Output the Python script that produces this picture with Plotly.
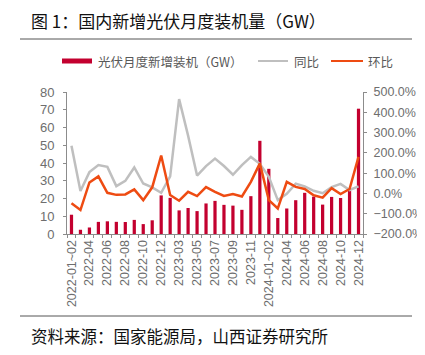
import plotly.graph_objects as go

categories = [
    "2022-01~02", "2022-03", "2022-04", "2022-05", "2022-06", "2022-07", "2022-08",
    "2022-09", "2022-10", "2022-11", "2022-12",
    "2023-01~02", "2023-03", "2023-04", "2023-05", "2023-06", "2023-07", "2023-08",
    "2023-09", "2023-10", "2023-11", "2023-12",
    "2024-01~02", "2024-03", "2024-04", "2024-05", "2024-06", "2024-07", "2024-08",
    "2024-09", "2024-10", "2024-11", "2024-12",
]
installed_gw = [
    10.86, 2.39, 3.67, 6.83, 7.15, 6.85, 6.75, 7.95, 5.58, 7.72, 21.74,
    20.37, 13.3, 14.65, 12.9, 17.21, 18.66, 16.42, 15.99, 13.62, 21.32, 52.5,
    36.72, 9.0, 14.37, 19.04, 23.2, 21.05, 16.56, 20.89, 20.3, 24.2, 70.6,
]
yoy_pct = [
    235, 12, 105, 140, 131, 36, 62, 128, 49, 30, 3,
    84, 465, 285, 88, 135, 172, 135, 92, 140, 180, 146,
    82, -33, -2, 48, 35, 13, 1, 31, 47, 17, 35,
]
mom_pct = [
    -49, -82, 54, 84, 3, -7, -5, 20, -33, 30, 187,
    -8, -36, 8, -13, 31, 8, -12, -3, -15, 57, 148,
    -33, -74, 57, 32, 22, -9, -21, 26, -3, 22, 180,
]
labeled_ticks = [
    "2022-01~02", "2022-04", "2022-06", "2022-08", "2022-10", "2022-12",
    "2023-03", "2023-05", "2023-07", "2023-09", "2023-11",
    "2024-01~02", "2024-04", "2024-06", "2024-08", "2024-10", "2024-12",
]
tick_labels = [c if c in labeled_ticks else "" for c in categories]

names = ["光伏月度新增装机（GW）", "同比", "环比"]

BAR = "#C3002F"
GRAY = "#BFBFBF"
ORANGE = "#EE4B12"
AXIS = "#8C8C8C"
TXT = "#6E6E6E"
FONT = "Liberation Sans, Noto Sans CJK SC, sans-serif"

# page offset of the figure (default body margin) and target screen geometry
OFF = 8
W, H = 425 - OFF, 355 - OFF
L, R, T, B = 67, 363, 92, 234  # plot area on screen


def px(x):
    return (x - L) / (R - L)


def py(y):
    return (B - y) / (B - T)


fig = go.Figure()
fig.add_trace(go.Bar(x=categories, y=installed_gw, name=names[0],
                     marker=dict(color=BAR, line=dict(width=0)), yaxis="y"))
fig.add_trace(go.Scatter(x=categories, y=[v / 100 for v in yoy_pct], name=names[1],
                         mode="lines", line=dict(color=GRAY, width=2.5), yaxis="y2"))
fig.add_trace(go.Scatter(x=categories, y=[v / 100 for v in mom_pct], name=names[2],
                         mode="lines", line=dict(color=ORANGE, width=2.5), yaxis="y2"))

LEG_Y = 61
shapes = [
    dict(type="line", xref="paper", yref="paper", x0=px(20), x1=px(412),
         y0=py(39), y1=py(39), line=dict(color="#555555", width=1)),
    dict(type="line", xref="paper", yref="paper", x0=px(20), x1=px(412),
         y0=py(316), y1=py(316), line=dict(color="#555555", width=1)),
    dict(type="rect", xref="paper", yref="paper", x0=px(62), x1=px(92),
         y0=py(LEG_Y + 2.5), y1=py(LEG_Y - 2.5), fillcolor=BAR, line=dict(width=0)),
    dict(type="line", xref="paper", yref="paper", x0=px(258), x1=px(288),
         y0=py(LEG_Y), y1=py(LEG_Y), line=dict(color=GRAY, width=2)),
    dict(type="line", xref="paper", yref="paper", x0=px(331), x1=px(363),
         y0=py(LEG_Y), y1=py(LEG_Y), line=dict(color=ORANGE, width=2)),
]
legend_font = dict(size=12.5, color="#595959", family="Noto Sans CJK SC, sans-serif")
annotations = [
    dict(text="图 1：国内新增光伏月度装机量（GW）", xref="paper", yref="paper",
         x=px(29), y=py(20), xanchor="left", yanchor="middle", showarrow=False,
         font=dict(size=17, color="#111111", family="Noto Sans CJK SC")),
    dict(text="资料来源：国家能源局，山西证券研究所", xref="paper", yref="paper",
         x=px(29), y=py(336), xanchor="left", yanchor="middle", showarrow=False,
         font=dict(size=16.5, color="#111111", family="Noto Sans CJK SC")),
    dict(text=names[0], xref="paper", yref="paper", x=px(96), y=py(LEG_Y),
         xanchor="left", yanchor="middle", showarrow=False, font=legend_font),
    dict(text=names[1], xref="paper", yref="paper", x=px(292), y=py(LEG_Y),
         xanchor="left", yanchor="middle", showarrow=False, font=legend_font),
    dict(text=names[2], xref="paper", yref="paper", x=px(366), y=py(LEG_Y),
         xanchor="left", yanchor="middle", showarrow=False, font=legend_font),
]

fig.update_layout(
    width=W, height=H,
    margin=dict(l=L - OFF, r=W - (R - OFF), t=T - OFF, b=H - (B - OFF), autoexpand=False),
    paper_bgcolor="white", plot_bgcolor="white",
    bargap=0.64,
    showlegend=False,
    font=dict(family=FONT, color=TXT),
    xaxis=dict(
        type="category", tickmode="array", tickvals=categories, ticktext=tick_labels,
        tickangle=-90, tickfont=dict(size=12.5, color=TXT), ticks="outside", ticklen=3,
        tickcolor=AXIS, showline=True, linecolor=AXIS, linewidth=1, showgrid=False,
        tickson="boundaries", range=[-0.5, len(categories) - 0.5], automargin=False,
    ),
    yaxis=dict(
        range=[0, 80], dtick=10, showgrid=False, zeroline=False, showline=True,
        linecolor=AXIS, linewidth=1, ticks="outside", ticklen=3, tickcolor=AXIS,
        tickfont=dict(size=13, color=TXT), ticklabelstandoff=6, automargin=False,
    ),
    yaxis2=dict(
        range=[-2, 5], dtick=1, tickformat=".1%", overlaying="y", side="right",
        showgrid=False, zeroline=False, showline=True, linecolor=AXIS, linewidth=1,
        ticks="outside", ticklen=3, tickcolor=AXIS, tickfont=dict(size=12.5, color=TXT),
        ticklabelstandoff=4, automargin=False,
    ),
    shapes=shapes,
    annotations=annotations,
)

fig.write_html("out.html")
